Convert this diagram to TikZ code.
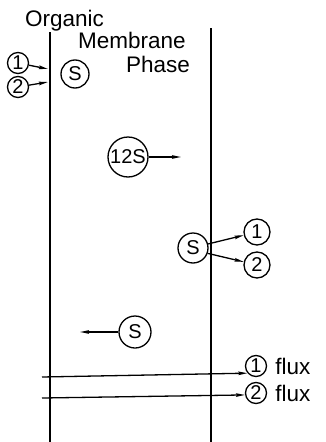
\documentclass[tikz,border=0pt]{standalone}
\usepackage{fontspec}
\setmainfont{Liberation Sans}
\usetikzlibrary{arrows.meta}

\begin{document}
\begin{tikzpicture}[
    x=1pt, y=-1pt,
    font=\fontsize{20}{22}\selectfont,
    paroi/.style={line width=1.3pt},
    titre/.style={font=\fontsize{22.5}{26}\selectfont, inner sep=0pt},
    ion/.style={circle, draw, line width=1.3pt, inner sep=0pt, minimum size=21pt},
    cplx/.style={circle, draw, line width=1.3pt, inner sep=0pt, minimum size=28pt},
    fleche/.style={-{Stealth[length=9pt,width=3.5pt,inset=1pt]}, line width=1.3pt}
  ]
    \useasboundingbox (0,0) rectangle (325,442);

    % membrane walls
    \coordinate (gh) at (50,32);
    \coordinate (gb) at (50,442);
    \coordinate (dh) at (211,28);
    \coordinate (db) at (211,442);
    \draw[paroi] (gh) -- (gb);
    \draw[paroi] (dh) -- (db);

    \node[titre, anchor=base west] (org)   at (25,26)  {Organic};
    \node[titre, anchor=base west] (memb)  at (78,48)  {Membrane};
    \node[titre, anchor=base east] (phase) at (190,72) {Phase};

    \node[ion]  (a1) at (18,63) {1};
    \node[ion]  (a2) at (18,87) {2};
    \node[cplx] (s1) at (75,74) {S};

    \node[cplx, minimum size=40pt] (s12) at (128,157) {12S};

    \node[cplx, minimum size=30pt] (s2) at (193,248) {S};
    \node[ion, minimum size=26pt]  (b1) at (257,232) {1};
    \node[ion, minimum size=26pt]  (b2) at (257,265) {2};

    \node[cplx, minimum size=32pt] (s3) at (135,332) {S};

    \node[ion] (f1) at (256,366) {1};
    \node[ion] (f2) at (256,393) {2};
    \node[titre, anchor=west] (fl1) at ([xshift=8pt]f1.east) {flux};
    \node[titre, anchor=west] (fl2) at ([xshift=8pt]f2.east) {flux};

    \coordinate (pa1) at (48,69);
    \coordinate (pa2) at (48,82);
    \coordinate (p12) at (181,157);
    \coordinate (p3)  at (80,332);
    \coordinate (d1)  at (42,377);
    \coordinate (d2)  at (42,398);

    \draw[fleche] (a1) -- (pa1);
    \draw[fleche] (a2) -- (pa2);
    \draw[fleche] (s12) -- (p12);
    \draw[fleche] (s2.15) -- (b1);
    \draw[fleche] (s2.-20) -- (b2);
    \draw[fleche] (s3) -- (p3);
    \draw[fleche] (d1) -- (f1.220);
    \draw[fleche] (d2) -- (f2.190);
\end{tikzpicture}
\end{document}
